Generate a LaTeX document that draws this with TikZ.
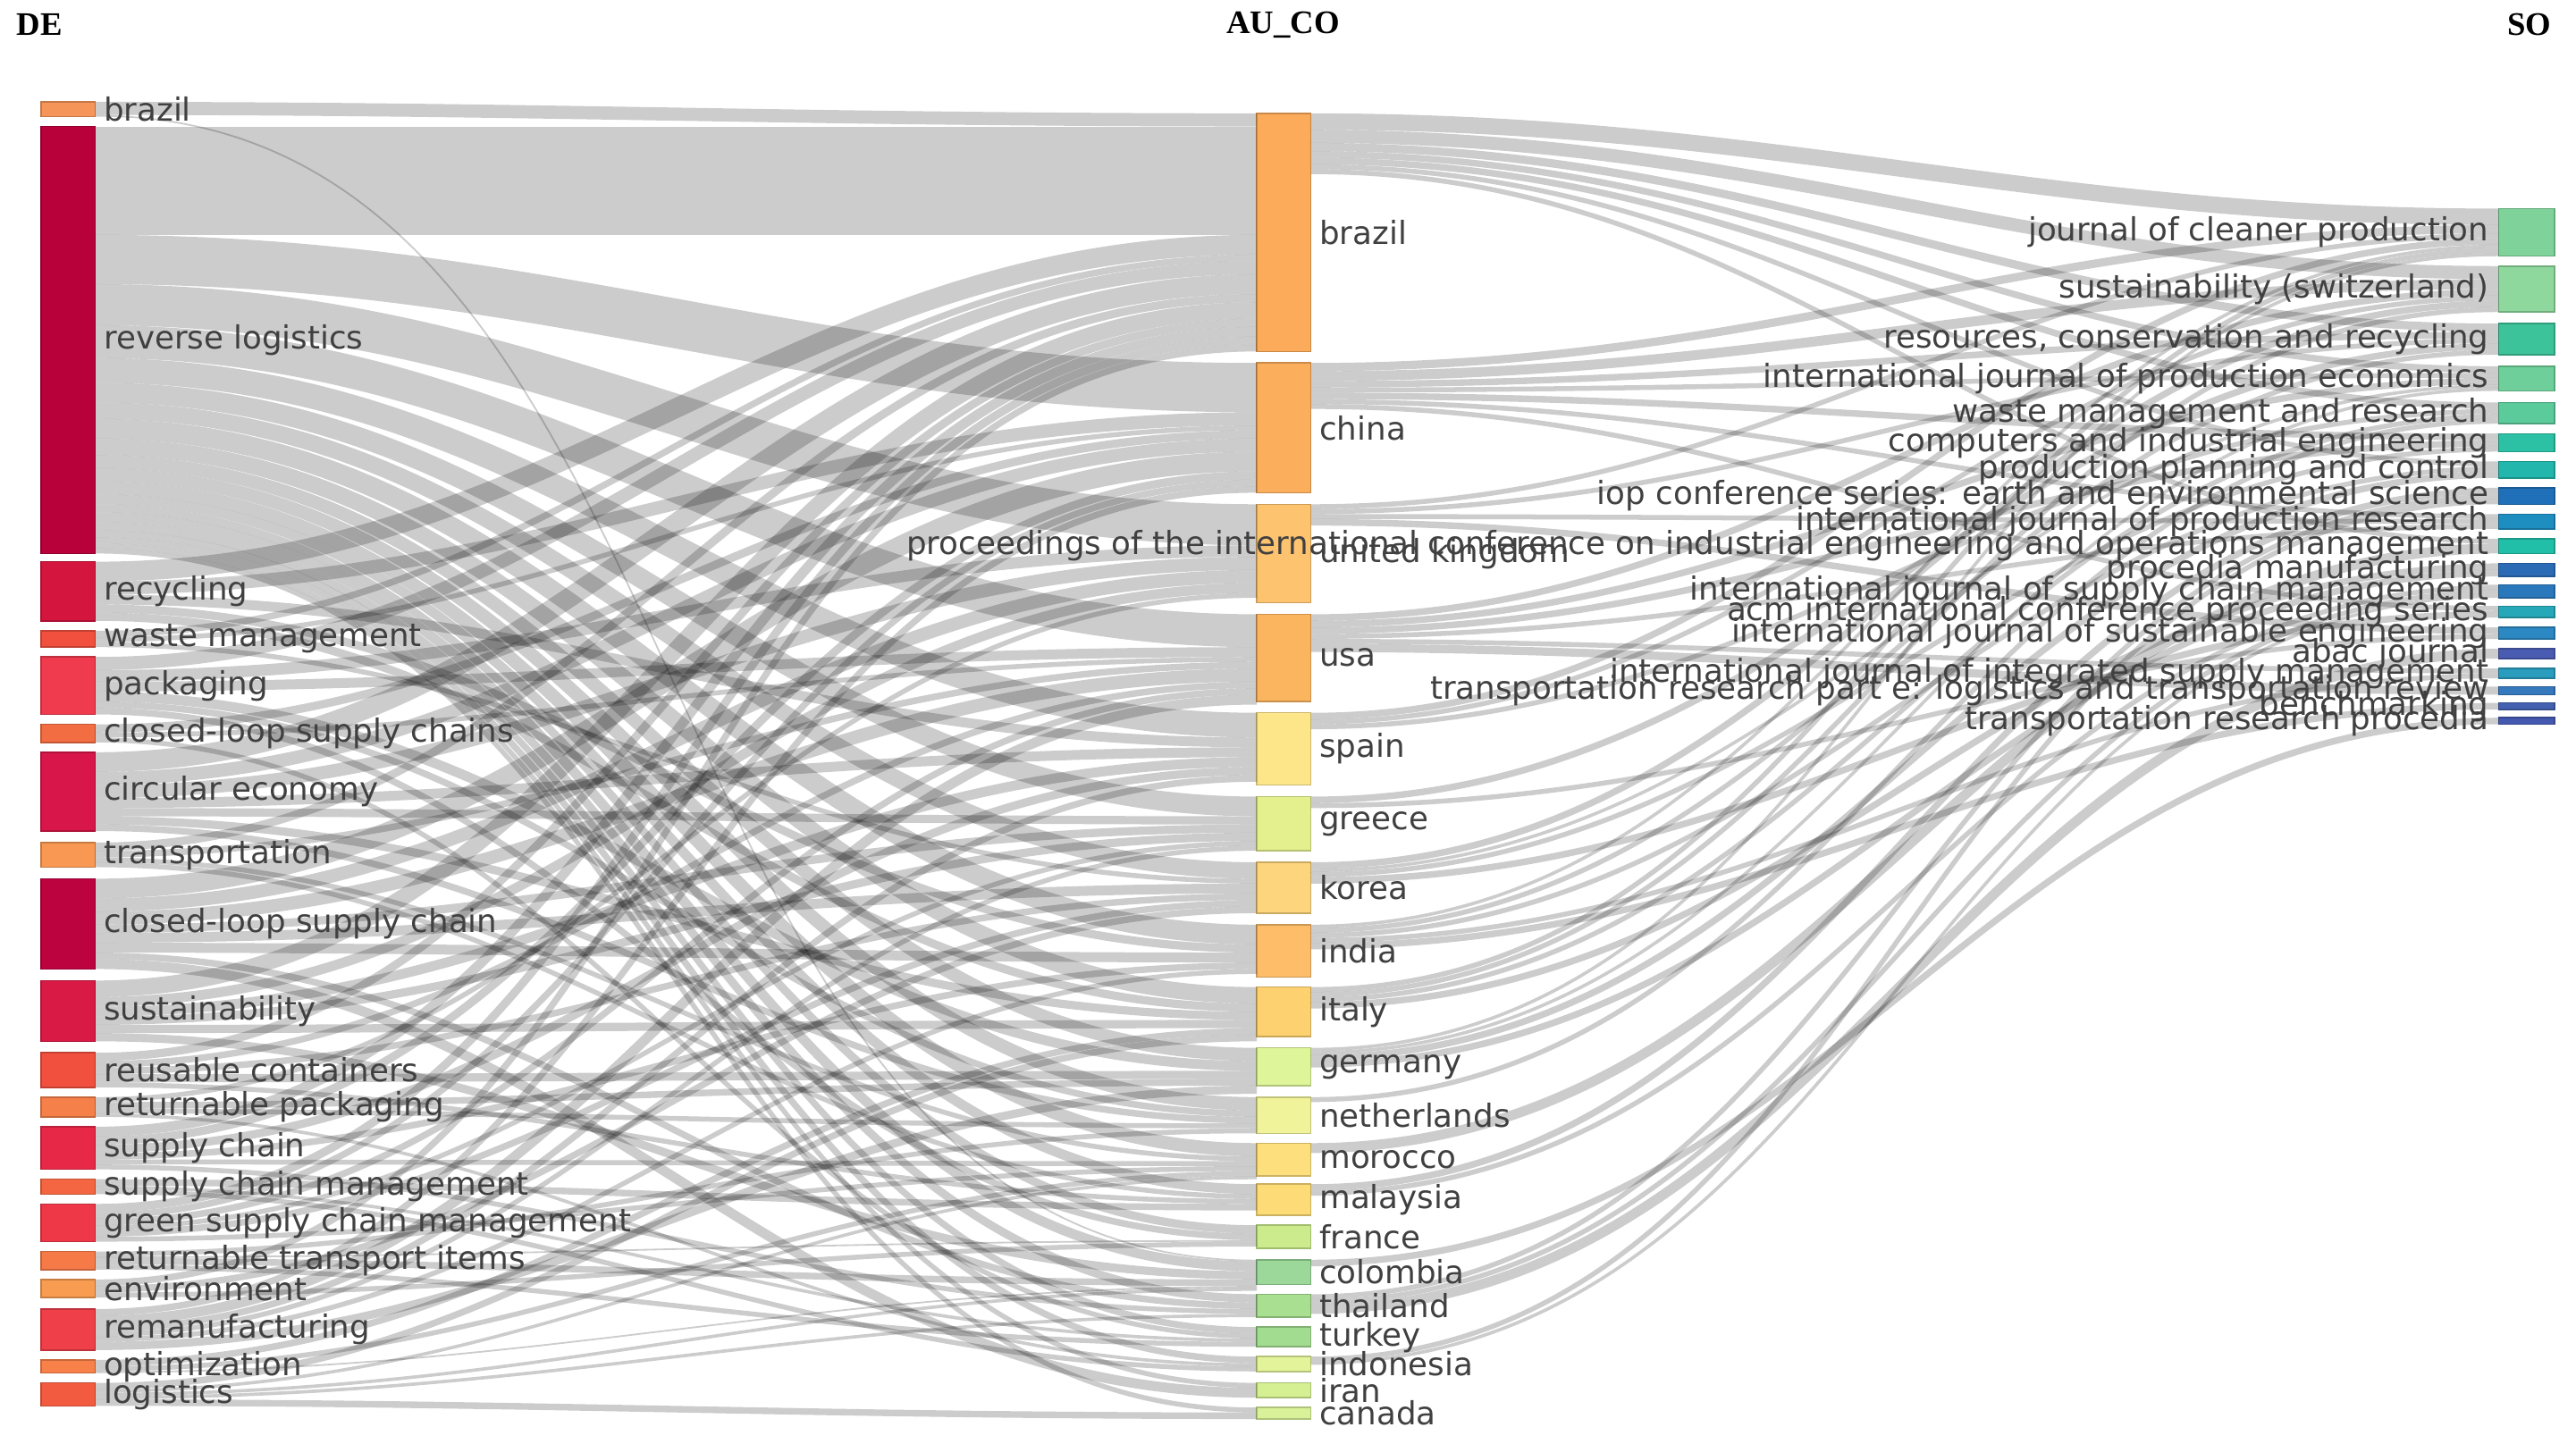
\documentclass[tikz,border=0pt]{standalone}
\usepackage{fontspec}
\setmainfont{DejaVu Sans}
\newfontfamily\hdr{Liberation Serif}
\begin{document}
\begin{tikzpicture}[x=1pt,y=-1pt,
 box/.style={rectangle,inner sep=0pt,outer sep=0pt,line width=0.8pt},
 link/.style={draw=black,draw opacity=0.2,line cap=butt},
 lab/.style={font=\fontsize{19.4}{19.4}\selectfont,text=black!75,inner sep=0pt},
 hd/.style={font=\hdr\bfseries\fontsize{20}{20}\selectfont,inner sep=0pt}]
\useasboundingbox (0,0) rectangle (1568,879);
\newcommand\nd[6]{\definecolor{c#1}{HTML}{#6}\node[box,fill=c#1,draw=c#1!80!black,minimum width=#5pt,minimum height={(#4-#3)*1pt},anchor=north west] (#1) at (#2,#3) {};\expandafter\xdef\csname o@#1\endcsname{0}\expandafter\xdef\csname i@#1\endcsname{0}}
\newcommand\fl[3]{%
 \pgfmathsetmacro\so{\csname o@#1\endcsname}%
 \pgfmathsetmacro\ti{\csname i@#2\endcsname}%
 \pgfmathsetmacro\ya{\so+#3/2}\pgfmathsetmacro\yb{\ti+#3/2}%
 \draw[link,line width=#3pt] ([yshift=-\ya pt]#1.north east) to[out=0,in=180] ([yshift=-\yb pt]#2.north west);
 \pgfmathsetmacro\myt{\so+#3}\expandafter\xdef\csname o@#1\endcsname{\myt}%
 \pgfmathsetmacro\myt{\ti+#3}\expandafter\xdef\csname i@#2\endcsname{\myt}}
\newcommand\lbl[2]{\node[lab,anchor=west] at ([xshift=5pt]#1.east) {#2};}
\newcommand\rlbl[2]{\node[lab,anchor=east] at ([xshift=-6pt]#1.west) {#2};}
% headers
\node[hd,anchor=west] at (10,15) {DE};
\node[hd] at (781,15) {AU\_CO};
\node[hd,anchor=east] at (1553,15) {SO};
% left nodes
\nd{Lbr}{25}{62}{71}{33}{F6955A}
\nd{Lrl}{25}{77}{337}{33}{B8003A}
\nd{Lrec}{25}{342}{378}{33}{D4163F}
\nd{Lwm}{25}{384}{394}{33}{F2503E}
\nd{Lpack}{25}{400}{435}{33}{EF3B4D}
\nd{Lclscs}{25}{441}{452}{33}{F26D42}
\nd{Lce}{25}{458}{506}{33}{D9164A}
\nd{Ltr}{25}{513}{528}{33}{F89853}
\nd{Lcls}{25}{535}{590}{33}{BC0340}
\nd{Lsus}{25}{597}{634}{33}{D81A44}
\nd{Lreu}{25}{641}{662}{33}{F2503E}
\nd{Lrp}{25}{668}{680}{33}{F6804A}
\nd{Lsc}{25}{686}{712}{33}{E82847}
\nd{Lscm}{25}{718}{727}{33}{F46641}
\nd{Lgscm}{25}{733}{756}{33}{EE3848}
\nd{Lrti}{25}{762}{773}{33}{F57A48}
\nd{Lenv}{25}{779}{790}{33}{F89C52}
\nd{Lrem}{25}{797}{822}{33}{EF3F48}
\nd{Lopt}{25}{828}{836}{33}{F78149}
\nd{Llog}{25}{842}{856}{33}{F35B40}
% middle nodes
\nd{Mbr}{765}{69}{214}{33}{FBAB5A}
\nd{Mcn}{765}{221}{300}{33}{FBAE5C}
\nd{Muk}{765}{307}{367}{33}{FDC36F}
\nd{Mus}{765}{374}{427}{33}{FCB55F}
\nd{Mes}{765}{434}{478}{33}{FDE68A}
\nd{Mgr}{765}{485}{518}{33}{E4EF8E}
\nd{Mkr}{765}{525}{556}{33}{FDD57C}
\nd{Min}{765}{563}{595}{33}{FDBD69}
\nd{Mit}{765}{601}{631}{33}{FDD070}
\nd{Mde}{765}{638}{661}{33}{DEF59A}
\nd{Mnl}{765}{668}{690}{33}{F1F39A}
\nd{Mma}{765}{696}{716}{33}{FDE07D}
\nd{Mmy}{765}{721}{740}{33}{FDDC78}
\nd{Mfr}{765}{746}{760}{33}{CBEB8C}
\nd{Mco}{765}{767}{782}{33}{9CD89A}
\nd{Mth}{765}{788}{802}{33}{A8DF90}
\nd{Mtr}{765}{808}{820}{33}{A2DC90}
\nd{Mid}{765}{826}{835}{33}{E3F39A}
\nd{Mir}{765}{842}{851}{33}{D5EF93}
\nd{Mca}{765}{857}{864}{33}{D9F29A}
% right nodes
\nd{Rjcp}{1521}{127}{156}{34}{7FD39A}
\nd{Rsus}{1521}{162}{190}{34}{8ED89E}
\nd{Rrcr}{1521}{197}{216}{34}{3CC39A}
\nd{Rijpe}{1521}{223}{238}{34}{6FCF9A}
\nd{Rwmr}{1521}{245}{258}{34}{5CCB9C}
\nd{Rcie}{1521}{264}{275}{34}{2CC1A4}
\nd{Rppc}{1521}{281}{291}{34}{22B6AC}
\nd{Riop}{1521}{297}{307}{34}{1F70B8}
\nd{Rijpr}{1521}{313}{322}{34}{1E8DC0}
\nd{Rproc}{1521}{328}{337}{34}{22BFA8}
\nd{Rpm}{1521}{343}{351}{34}{2B6BB6}
\nd{Rijscm}{1521}{356}{364}{34}{2A78BC}
\nd{Racm}{1521}{369}{376}{34}{27A8B8}
\nd{Rijse}{1521}{382}{389}{34}{2B88C2}
\nd{Rabac}{1521}{395}{401}{34}{4A5BB2}
\nd{Rijism}{1521}{407}{413}{34}{2A9CBE}
\nd{Rtre}{1521}{418}{423}{34}{3578BC}
\nd{Rbench}{1521}{428}{432}{34}{4460B0}
\nd{Rtrp}{1521}{437}{441}{34}{4458B0}
% flows left -> middle
\fl{Lbr}{Mbr}{8}\fl{Lbr}{Mco}{1}
\fl{Lrl}{Mbr}{66}\fl{Lrl}{Mcn}{30}\fl{Lrl}{Muk}{25}\fl{Lrl}{Mus}{20}\fl{Lrl}{Mes}{15}\fl{Lrl}{Mgr}{12}\fl{Lrl}{Mkr}{10}\fl{Lrl}{Min}{12}\fl{Lrl}{Mit}{10}\fl{Lrl}{Mde}{8}\fl{Lrl}{Mnl}{8}\fl{Lrl}{Mma}{8}\fl{Lrl}{Mmy}{6}\fl{Lrl}{Mfr}{5}\fl{Lrl}{Mco}{6}\fl{Lrl}{Mth}{5}\fl{Lrl}{Mtr}{4}\fl{Lrl}{Mid}{4}\fl{Lrl}{Mir}{3}\fl{Lrl}{Mca}{3}
\fl{Lrec}{Mbr}{12}\fl{Lrec}{Mcn}{8}\fl{Lrec}{Mes}{6}\fl{Lrec}{Min}{5}\fl{Lrec}{Mit}{5}
\fl{Lwm}{Mbr}{4}\fl{Lwm}{Mcn}{3}\fl{Lwm}{Mkr}{3}
\fl{Lpack}{Mbr}{8}\fl{Lpack}{Muk}{7}\fl{Lpack}{Mus}{6}\fl{Lpack}{Mde}{6}\fl{Lpack}{Mnl}{4}\fl{Lpack}{Mfr}{4}
\fl{Lclscs}{Mcn}{5}\fl{Lclscs}{Mus}{3}\fl{Lclscs}{Mtr}{3}
\fl{Lce}{Mbr}{12}\fl{Lce}{Mcn}{8}\fl{Lce}{Muk}{8}\fl{Lce}{Mes}{6}\fl{Lce}{Mgr}{5}\fl{Lce}{Mit}{5}\fl{Lce}{Mnl}{4}
\fl{Ltr}{Mbr}{5}\fl{Ltr}{Mus}{4}\fl{Ltr}{Mma}{3}\fl{Ltr}{Mmy}{3}
\fl{Lcls}{Mcn}{12}\fl{Lcls}{Muk}{8}\fl{Lcls}{Mus}{8}\fl{Lcls}{Mgr}{5}\fl{Lcls}{Mkr}{6}\fl{Lcls}{Min}{6}\fl{Lcls}{Mth}{4}\fl{Lcls}{Mir}{6}
\fl{Lsus}{Mbr}{10}\fl{Lsus}{Muk}{6}\fl{Lsus}{Mes}{6}\fl{Lsus}{Mgr}{5}\fl{Lsus}{Mit}{5}\fl{Lsus}{Mco}{5}
\fl{Lreu}{Mbr}{5}\fl{Lreu}{Mus}{4}\fl{Lreu}{Mkr}{4}\fl{Lreu}{Mde}{5}\fl{Lreu}{Mmy}{3}
\fl{Lrp}{Muk}{3}\fl{Lrp}{Mde}{4}\fl{Lrp}{Mnl}{3}\fl{Lrp}{Mid}{2}
\fl{Lsc}{Mbr}{6}\fl{Lsc}{Mcn}{5}\fl{Lsc}{Mes}{5}\fl{Lsc}{Min}{4}\fl{Lsc}{Mma}{3}\fl{Lsc}{Mth}{3}
\fl{Lscm}{Mmy}{4}\fl{Lscm}{Mtr}{2}\fl{Lscm}{Mid}{3}
\fl{Lgscm}{Mbr}{5}\fl{Lgscm}{Mcn}{4}\fl{Lgscm}{Mus}{4}\fl{Lgscm}{Mgr}{3}\fl{Lgscm}{Mkr}{4}\fl{Lgscm}{Mma}{3}
\fl{Lrti}{Mnl}{3}\fl{Lrti}{Mfr}{1}\fl{Lrti}{Mco}{4}\fl{Lrti}{Mtr}{3}
\fl{Lenv}{Mbr}{4}\fl{Lenv}{Mkr}{4}\fl{Lenv}{Mfr}{3}
\fl{Lrem}{Mcn}{4}\fl{Lrem}{Mus}{6}\fl{Lrem}{Mes}{4}\fl{Lrem}{Mgr}{3}\fl{Lrem}{Min}{3}\fl{Lrem}{Mde}{5}
\fl{Lopt}{Mit}{4}\fl{Lopt}{Mma}{3}\fl{Lopt}{Mco}{1}
\fl{Llog}{Mit}{4}\fl{Llog}{Mma}{2}\fl{Llog}{Mco}{2}\fl{Llog}{Mth}{2}\fl{Llog}{Mca}{4}
% flows middle -> right
\fl{Mbr}{Rjcp}{10}\fl{Mbr}{Rsus}{8}\fl{Mbr}{Rrcr}{5}\fl{Mbr}{Rijpe}{4}\fl{Mbr}{Rwmr}{4}\fl{Mbr}{Rppc}{3}\fl{Mbr}{Rproc}{3}
\fl{Mcn}{Rjcp}{5}\fl{Mcn}{Rsus}{6}\fl{Mcn}{Rrcr}{4}\fl{Mcn}{Rijpe}{3}\fl{Mcn}{Rcie}{4}\fl{Mcn}{Rijpr}{3}\fl{Mcn}{Racm}{3}
\fl{Muk}{Rjcp}{3}\fl{Muk}{Rrcr}{3}\fl{Muk}{Rijpr}{3}\fl{Muk}{Rijse}{4}
\fl{Mus}{Rsus}{4}\fl{Mus}{Rijpe}{4}\fl{Mus}{Rcie}{4}\fl{Mus}{Rijpr}{3}\fl{Mus}{Rijism}{3}\fl{Mus}{Rtre}{5}
\fl{Mes}{Rjcp}{4}\fl{Mes}{Rsus}{3}\fl{Mes}{Rwmr}{3}
\fl{Mgr}{Rrcr}{4}\fl{Mgr}{Rijse}{3}
\fl{Mkr}{Rsus}{4}\fl{Mkr}{Rijpe}{2}\fl{Mkr}{Rcie}{3}\fl{Mkr}{Racm}{4}
\fl{Min}{Rjcp}{2}\fl{Min}{Rrcr}{3}\fl{Min}{Rppc}{3}\fl{Min}{Rijism}{3}\fl{Min}{Rbench}{4}
\fl{Mit}{Rjcp}{3}\fl{Mit}{Rsus}{3}\fl{Mit}{Rwmr}{3}\fl{Mit}{Rpm}{4}
\fl{Mde}{Rjcp}{2}\fl{Mde}{Rijpe}{2}\fl{Mde}{Rppc}{4}\fl{Mde}{Rpm}{4}
\fl{Mnl}{Rwmr}{3}
\fl{Mma}{Rproc}{6}
\fl{Mmy}{Riop}{4}\fl{Mmy}{Rijscm}{3}
\fl{Mco}{Rtrp}{4}
\fl{Mth}{Riop}{3}\fl{Mth}{Rijscm}{3}\fl{Mth}{Rabac}{6}
\fl{Mid}{Riop}{3}\fl{Mid}{Rijscm}{2}
% left labels
\lbl{Lbr}{brazil}\lbl{Lrl}{reverse logistics}\lbl{Lrec}{recycling}\lbl{Lwm}{waste management}
\lbl{Lpack}{packaging}\lbl{Lclscs}{closed-loop supply chains}\lbl{Lce}{circular economy}
\lbl{Ltr}{transportation}\lbl{Lcls}{closed-loop supply chain}\lbl{Lsus}{sustainability}
\lbl{Lreu}{reusable containers}\lbl{Lrp}{returnable packaging}\lbl{Lsc}{supply chain}
\lbl{Lscm}{supply chain management}\lbl{Lgscm}{green supply chain management}
\lbl{Lrti}{returnable transport items}\lbl{Lenv}{environment}\lbl{Lrem}{remanufacturing}
\lbl{Lopt}{optimization}\lbl{Llog}{logistics}
% middle labels
\lbl{Mbr}{brazil}\lbl{Mcn}{china}\lbl{Muk}{united kingdom}\lbl{Mus}{usa}\lbl{Mes}{spain}
\lbl{Mgr}{greece}\lbl{Mkr}{korea}\lbl{Min}{india}\lbl{Mit}{italy}\lbl{Mde}{germany}
\lbl{Mnl}{netherlands}\lbl{Mma}{morocco}\lbl{Mmy}{malaysia}\lbl{Mfr}{france}\lbl{Mco}{colombia}
\lbl{Mth}{thailand}\lbl{Mtr}{turkey}\lbl{Mid}{indonesia}\lbl{Mir}{iran}\lbl{Mca}{canada}
% right labels
\rlbl{Rjcp}{journal of cleaner production}\rlbl{Rsus}{sustainability (switzerland)}
\rlbl{Rrcr}{resources, conservation and recycling}\rlbl{Rijpe}{international journal of production economics}
\rlbl{Rwmr}{waste management and research}\rlbl{Rcie}{computers and industrial engineering}
\rlbl{Rppc}{production planning and control}\rlbl{Riop}{iop conference series: earth and environmental science}
\rlbl{Rijpr}{international journal of production research}
\rlbl{Rproc}{proceedings of the international conference on industrial engineering and operations management}
\rlbl{Rpm}{procedia manufacturing}\rlbl{Rijscm}{international journal of supply chain management}
\rlbl{Racm}{acm international conference proceeding series}\rlbl{Rijse}{international journal of sustainable engineering}
\rlbl{Rabac}{abac journal}\rlbl{Rijism}{international journal of integrated supply management}
\rlbl{Rtre}{transportation research part e: logistics and transportation review}
\rlbl{Rbench}{benchmarking}\rlbl{Rtrp}{transportation research procedia}
\end{tikzpicture}
\end{document}
